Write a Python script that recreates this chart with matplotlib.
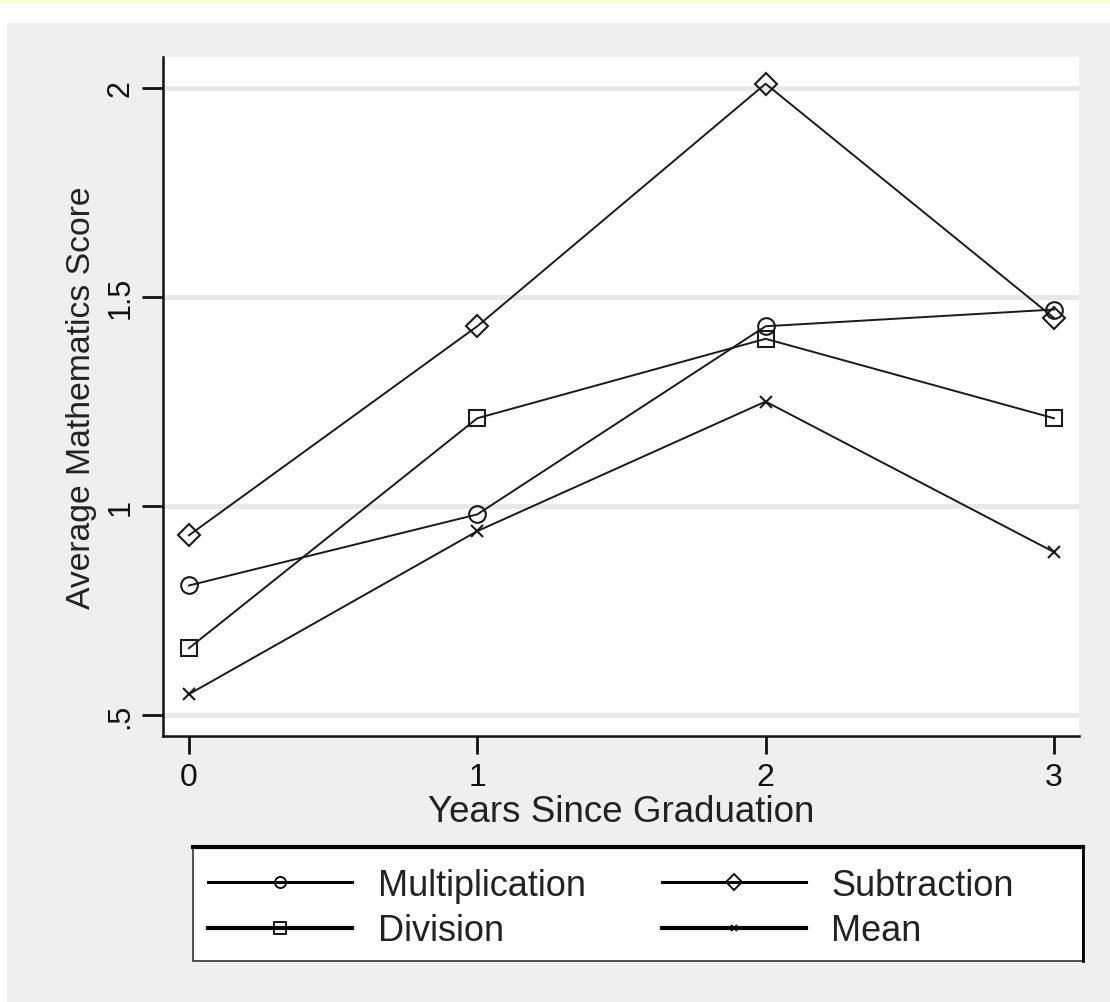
import matplotlib
matplotlib.use("Agg")
import matplotlib.pyplot as plt
from matplotlib.patches import Rectangle
from matplotlib.lines import Line2D

plt.rcParams['font.family'] = ['Liberation Sans', 'DejaVu Sans']

years = [0, 1, 2, 3]
multiplication = [0.81, 0.98, 1.43, 1.47]
subtraction = [0.93, 1.43, 2.01, 1.45]
division = [0.66, 1.21, 1.40, 1.21]
mean = [0.55, 0.94, 1.25, 0.89]
yticks = [0.5, 1, 1.5, 2]
ytick_labels = ['.5', '1', '1.5', '2']
xticks = [0, 1, 2, 3]

W, H = 1110, 1003
fig = plt.figure(figsize=(W / 100, H / 100), dpi=100, facecolor='white')

# background panels
fig.patches.append(Rectangle((7 / W, 0), 1 - 7 / W, 1 - 24 / H, transform=fig.transFigure,
                             facecolor='#efefef', edgecolor='none', zorder=-10))
fig.patches.append(Rectangle((0, 1 - 4 / H), 1, 4 / H, transform=fig.transFigure,
                             facecolor='#ffffcc', edgecolor='none', zorder=-10))

ax = fig.add_axes([163 / W, 1 - 737 / H, (1079 - 163) / W, (737 - 58) / H])
ax.set_facecolor('white')

for y in yticks:
    ax.axhline(y, color='#e8e8e8', lw=3.5, zorder=0)

lc = '#1a1a1a'
series = [
    (multiplication, 'o', 12),
    (subtraction, 'D', 11),
    (division, 's', 12),
    (mean, 'x', 8),
]
for vals, mk, size in series:
    ax.plot(years, vals, color=lc, lw=1.4, marker=mk, markersize=size,
            markerfacecolor='none', markeredgecolor=lc, markeredgewidth=1.5, zorder=3)

ax.set_xlim(-0.09, 3.087)
ax.set_ylim(0.45, 2.074)
ax.set_xticks(xticks)
ax.set_xticklabels([str(x) for x in xticks], fontsize=23)
ax.set_yticks(yticks)
ax.set_yticklabels(ytick_labels, fontsize=22, rotation=90, va='center')
ax.tick_params(axis='y', length=15, width=2, pad=5, colors='#111111')
ax.tick_params(axis='x', length=13, width=2, pad=6, colors='#111111')
for s in ['top', 'right']:
    ax.spines[s].set_visible(False)
for s in ['left', 'bottom']:
    ax.spines[s].set_linewidth(1.8)
    ax.spines[s].set_color('#111111')

ax.set_xlabel('Years Since Graduation', fontsize=26.5, labelpad=1, color='#222222')
ax.set_ylabel('Average Mathematics Score', fontsize=24.3, labelpad=6, color='#222222')

# legend frame drawn manually
lx0, lx1, ly0, ly1 = 193, 1083, 848, 962
fig.patches.append(Rectangle((lx0 / W, 1 - ly1 / H), (lx1 - lx0) / W, (ly1 - ly0) / H,
                             transform=fig.transFigure, facecolor='white',
                             edgecolor='#333333', lw=1.2, zorder=1))
fig.add_artist(Line2D([lx0 / W, lx1 / W], [1 - ly0 / H, 1 - ly0 / H], transform=fig.transFigure,
                      color='black', lw=3, zorder=2))
fig.add_artist(Line2D([lx1 / W, lx1 / W], [1 - ly0 / H, 1 - ly1 / H], transform=fig.transFigure,
                      color='black', lw=2, zorder=2))

handles = [
    Line2D([], [], color='black', lw=2.2, marker='o', markersize=8, markerfacecolor='none', markeredgewidth=1.3),
    Line2D([], [], color='black', lw=3.0, marker='s', markersize=8, markerfacecolor='none', markeredgewidth=1.3),
    Line2D([], [], color='black', lw=2.2, marker='D', markersize=8, markerfacecolor='none', markeredgewidth=1.3),
    Line2D([], [], color='black', lw=3.0, marker='x', markersize=5, markeredgewidth=1.3),
]
labels = ['Multiplication', 'Division', 'Subtraction', 'Mean']
leg = fig.legend(handles, labels, ncol=2, loc='upper left',
                 bbox_to_anchor=(208 / W, 1 - 869 / H),
                 fontsize=26, frameon=False, handlelength=4.0, handletextpad=0.7,
                 borderaxespad=0, borderpad=0, labelspacing=0.29, columnspacing=2.1)
leg.set_zorder(3)
for t in leg.get_texts():
    t.set_color('#222222')

fig.savefig('out.png', dpi=100, facecolor=fig.get_facecolor())
